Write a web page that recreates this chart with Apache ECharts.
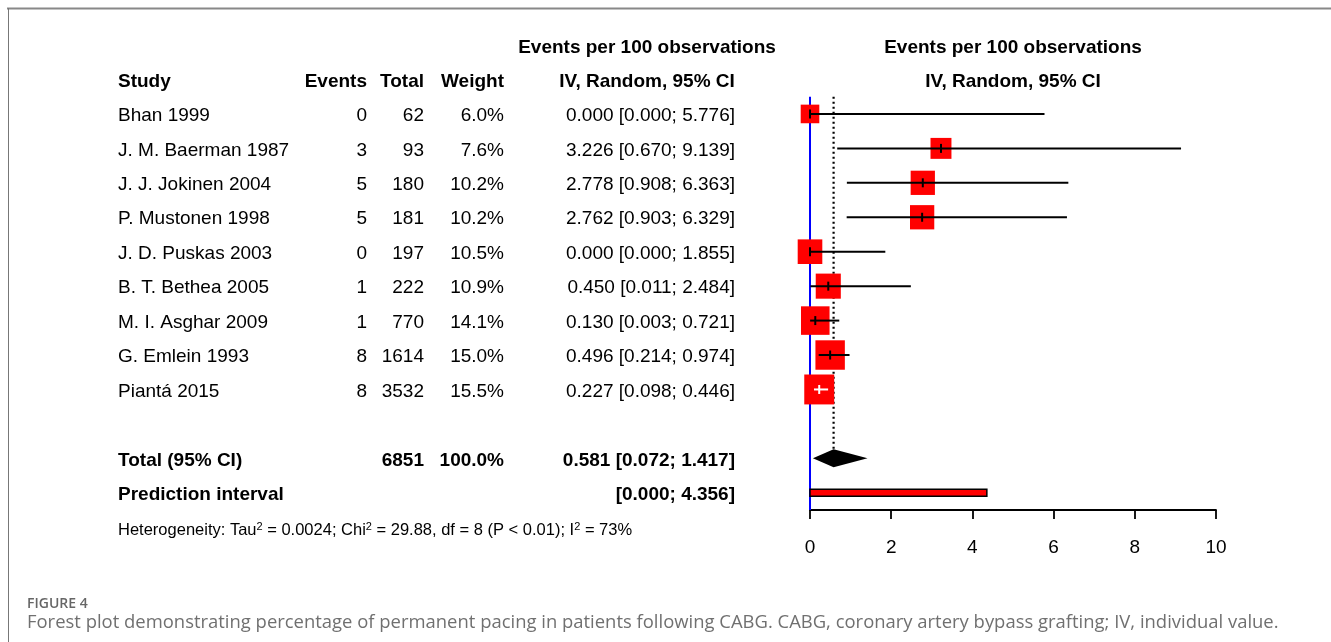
<!DOCTYPE html>
<html>
<head>
<meta charset="utf-8">
<script src="https://cdn.jsdelivr.net/npm/echarts@6/dist/echarts.min.js"></script>
<style>
html, body { margin: 0; padding: 0; background: #fff; }
#chart { width: 1331px; height: 642px; }
</style>
</head>
<body>
<div id="chart"></div>
<script>
// study data (events per 100 observations)
const studies = ["Bhan 1999", "J. M. Baerman 1987", "J. J. Jokinen 2004", "P. Mustonen 1998", "J. D. Puskas 2003",
	"B. T. Bethea 2005", "M. I. Asghar 2009", "G. Emlein 1993", "Piantá 2015"]
const events = [0, 3, 5, 5, 0, 1, 1, 8, 8]
const totals = [62, 93, 180, 181, 197, 222, 770, 1614, 3532]
const weights = [6.0, 7.6, 10.2, 10.2, 10.5, 10.9, 14.1, 15.0, 15.5]
const estimates = [0.000, 3.226, 2.778, 2.762, 0.000, 0.450, 0.130, 0.496, 0.227]
const lower = [0.000, 0.670, 0.908, 0.903, 0.000, 0.011, 0.003, 0.214, 0.098]
const upper = [5.776, 9.139, 6.363, 6.329, 1.855, 2.484, 0.721, 0.974, 0.446]

const pooledEst = [0.581]
const pooledLower = [0.072]
const pooledUpper = [1.417]
const pooledTotal = [6851]
const predInterval = [0.000, 4.356]
const xTicks = [0, 2, 4, 6, 8, 10]

const TOTAL_ROW = 10
const PRED_ROW = 11
const FONT = '"Liberation Sans", Arial, sans-serif'
const COL = { study: 118, events: 367, total: 424, weight: 504, ci: 735 }
const BOX = 7.6
const TY = 2 // text baseline nudge

const f3 = v => v.toFixed(3)

const txt = (text, x, y, align, bold, size) => ({
	type: "text",
	style: {
		text: text, x: x, y: y + TY,
		fill: "#000",
		font: (bold ? "bold " : "") + (size || 19) + "px " + FONT,
		textAlign: align, align: align,
		textVerticalAlign: "middle", verticalAlign: "middle"
	}
})

const chart = echarts.init(document.getElementById("chart"))

const studyData = studies.map((s, i) => [estimates[i], i, lower[i], upper[i], weights[i]])

const option = {
	backgroundColor: "#fff",
	animation: false,
	grid: { left: 810, right: 115, top: 79.5, height: 430.5 },
	xAxis: {
		type: "value",
		position: "bottom",
		min: xTicks[0],
		max: xTicks[xTicks.length - 1],
		interval: 2,
		axisLine: { show: true, onZero: false, lineStyle: { color: "#000", width: 1.8 } },
		axisTick: { show: true, length: 9, lineStyle: { color: "#000", width: 1.8 } },
		splitLine: { show: false },
		axisLabel: { fontSize: 19, color: "#000", fontFamily: FONT, margin: 28 }
	},
	yAxis: {
		type: "value",
		inverse: true,
		min: -1,
		max: 11.5,
		show: false
	},
	graphic: [
		// figure frame
		{ type: "line", shape: { x1: 7, y1: 8.5, x2: 1331, y2: 8.5 }, style: { stroke: "#888", lineWidth: 2 } },
		{ type: "line", shape: { x1: 8.5, y1: 8, x2: 8.5, y2: 642 }, style: { stroke: "#777", lineWidth: 1 } },
		// headers
		txt("Events per 100 observations", 647, 46, "center", true),
		txt("Events per 100 observations", 1013, 46, "center", true),
		txt("Study", COL.study, 80, "left", true),
		txt("Events", COL.events, 80, "right", true),
		txt("Total", COL.total, 80, "right", true),
		txt("Weight", COL.weight, 80, "right", true),
		txt("IV, Random, 95% CI", 647, 80, "center", true),
		txt("IV, Random, 95% CI", 1013, 80, "center", true),
		{
			type: "text",
			style: {
				text: "Heterogeneity: Tau{sup|2} = 0.0024; Chi{sup|2} = 29.88, df = 8 (P < 0.01); I{sup|2} = 73%",
				x: COL.study, y: 530,
				fill: "#000",
				font: "16.5px " + FONT,
				textVerticalAlign: "middle", verticalAlign: "middle",
				rich: { sup: { fontSize: 11, fontFamily: FONT, verticalAlign: "top", fill: "#000" } }
			}
		},
		// caption
		{
			type: "text",
			style: { text: "FIGURE 4", x: 27, y: 604, fill: "#666", font: "600 14px 'Open Sans'", textVerticalAlign: "middle", verticalAlign: "middle" }
		},
		{
			type: "text",
			style: {
				text: "Forest plot demonstrating percentage of permanent pacing in patients following CABG. CABG, coronary artery bypass grafting; IV, individual value.",
				x: 27, y: 623, fill: "#707070", font: "18.45px 'Open Sans'", textVerticalAlign: "middle", verticalAlign: "middle"
			}
		}
	],
	series: [
		{
			// reference lines
			type: "custom",
			data: [[0, -0.5]],
			renderItem: (params, api) => {
				const top0 = api.coord([0, -0.5])
				const bot0 = api.coord([0, 11.5])
				const topE = api.coord([pooledEst[0], -0.5])
				const dia = api.coord([pooledEst[0], TOTAL_ROW])
				return {
					type: "group",
					children: [
						{ type: "line", shape: { x1: top0[0], y1: top0[1], x2: bot0[0], y2: bot0[1] }, style: { stroke: "#0000ff", lineWidth: 2 } },
						{ type: "line", shape: { x1: topE[0], y1: topE[1], x2: dia[0], y2: dia[1] - 9 }, style: { stroke: "#000", lineWidth: 2.2, lineDash: [2, 3] } }
					]
				}
			}
		},
		{
			// study boxes and CIs
			type: "custom",
			data: studyData,
			renderItem: (params, api) => {
				const row = api.value(1)
				const c = api.coord([api.value(0), row])
				const l = api.coord([api.value(2), row])
				const h = api.coord([api.value(3), row])
				const s = BOX * Math.sqrt(api.value(4))
				const inside = l[0] >= c[0] - s / 2 && h[0] <= c[0] + s / 2
				const col = inside ? "#fff" : "#000"
				return {
					type: "group",
					children: [
						{ type: "rect", shape: { x: c[0] - s / 2, y: c[1] - s / 2, width: s, height: s }, style: { fill: "#ff0000" } },
						{ type: "line", shape: { x1: l[0], y1: c[1], x2: h[0], y2: c[1] }, style: { stroke: col, lineWidth: 2 } },
						{ type: "line", shape: { x1: c[0], y1: c[1] - 4.5, x2: c[0], y2: c[1] + 4.5 }, style: { stroke: col, lineWidth: 2 } }
					]
				}
			}
		},
		{
			// pooled diamond
			type: "custom",
			data: [[pooledEst[0], TOTAL_ROW, pooledLower[0], pooledUpper[0]]],
			renderItem: (params, api) => {
				const row = api.value(1)
				const c = api.coord([api.value(0), row])
				const l = api.coord([api.value(2), row])
				const h = api.coord([api.value(3), row])
				return {
					type: "polygon",
					shape: { points: [[l[0], c[1]], [c[0], c[1] - 9], [h[0], c[1]], [c[0], c[1] + 9]] },
					style: { fill: "#000" }
				}
			}
		},
		{
			// prediction interval
			type: "custom",
			data: [[predInterval[0], PRED_ROW, predInterval[1]]],
			renderItem: (params, api) => {
				const l = api.coord([api.value(0), api.value(1)])
				const h = api.coord([api.value(2), api.value(1)])
				return {
					type: "rect",
					shape: { x: l[0], y: l[1] - 3.5, width: h[0] - l[0], height: 7 },
					style: { fill: "#ff0000", stroke: "#000", lineWidth: 1.5 }
				}
			}
		},
		{
			// table text for studies
			type: "custom",
			data: studies.map((s, i) => [0, i]),
			renderItem: (params, api) => {
				const i = params.dataIndex
				const y = api.coord([0, api.value(1)])[1]
				return {
					type: "group",
					children: [
						txt(studies[i], COL.study, y, "left"),
						txt(String(events[i]), COL.events, y, "right"),
						txt(String(totals[i]), COL.total, y, "right"),
						txt(weights[i].toFixed(1) + "%", COL.weight, y, "right"),
						txt(f3(estimates[i]) + " [" + f3(lower[i]) + "; " + f3(upper[i]) + "]", COL.ci, y, "right")
					]
				}
			}
		},
		{
			// table text for summary rows
			type: "custom",
			data: [[0, TOTAL_ROW], [0, PRED_ROW]],
			renderItem: (params, api) => {
				const y = api.coord([0, api.value(1)])[1]
				if (params.dataIndex === 0) {
					const wsum = weights.reduce((a, b) => a + b, 0)
					return {
						type: "group",
						children: [
							txt("Total (95% CI)", COL.study, y, "left", true),
							txt(String(pooledTotal[0]), COL.total, y, "right", true),
							txt(wsum.toFixed(1) + "%", COL.weight, y, "right", true),
							txt(f3(pooledEst[0]) + " [" + f3(pooledLower[0]) + "; " + f3(pooledUpper[0]) + "]", COL.ci, y, "right", true)
						]
					}
				}
				return {
					type: "group",
					children: [
						txt("Prediction interval", COL.study, y, "left", true),
						txt("[" + f3(predInterval[0]) + "; " + f3(predInterval[1]) + "]", COL.ci, y, "right", true)
					]
				}
			}
		}
	]
}

chart.setOption(option)
</script>
</body>
</html>
